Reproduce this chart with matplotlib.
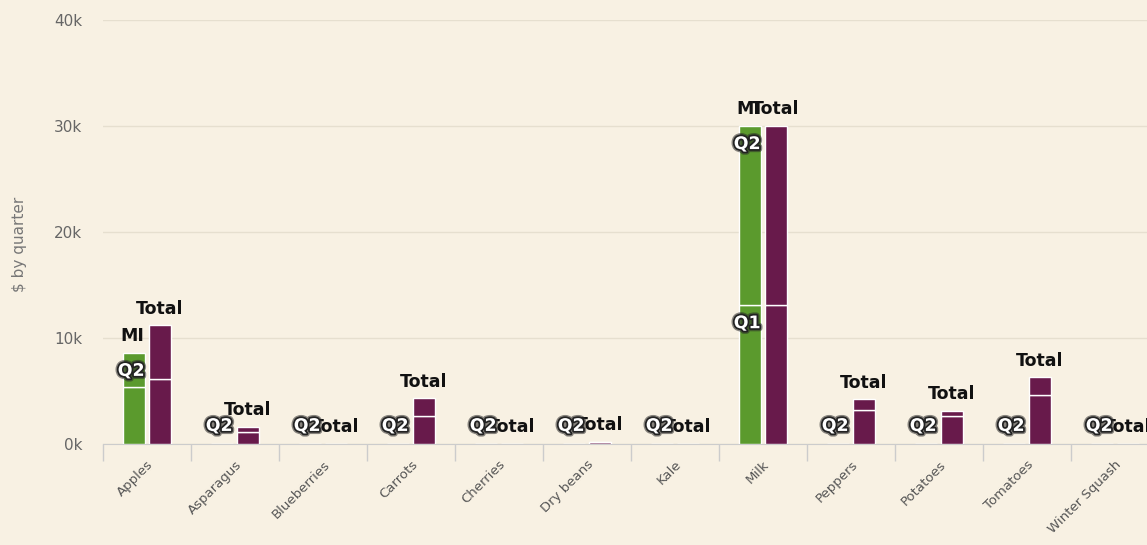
import numpy as np
import matplotlib.pyplot as plt
import matplotlib.patheffects as pe
from matplotlib.ticker import FuncFormatter, FixedLocator

categories = ['Apples', 'Asparagus', 'Blueberries', 'Carrots', 'Cherries', 'Dry beans',
              'Kale', 'Milk', 'Peppers', 'Potatoes', 'Tomatoes', 'Winter Squash']

# green stack (first stack), by quarter
green_q1 = [5400, 0, 0, 0, 0, 0, 0, 13100, 0, 0, 0, 0]
green_q2 = [3200, 0, 0, 0, 0, 0, 0, 16900, 0, 0, 0, 0]
# purple stack ("Total"), by quarter
purple_q1 = [6100, 1100, 0, 2600, 0, 200, 0, 13100, 3200, 2600, 4600, 0]
purple_q2 = [5100, 500, 0, 1700, 0, 0, 0, 16900, 1000, 500, 1700, 0]

green_stack_label = 'MI'
purple_stack_label = 'Total'
# data labels that the chart dropped (overlap removal)
hidden_labels = {('Apples', 'Q1')}

bg = '#f8f1e3'
green = '#5b9a2d'
purple = '#681a4b'

W, H = 1147, 545
fig = plt.figure(figsize=(W / 100, H / 100), dpi=100, facecolor=bg)
ax = fig.add_axes([103 / W, 101 / H, 12 * 88 / W, 424 / H])
ax.set_facecolor(bg)

x = np.arange(len(categories))
bw = 0.24
off = 0.148

g1 = np.array(green_q1)
g2 = np.array(green_q2)
p1 = np.array(purple_q1)
p2 = np.array(purple_q2)

kw = dict(width=bw, edgecolor='white', linewidth=1, zorder=3)
ax.bar(x - off, g1, color=green, **kw)
ax.bar(x - off, g2, bottom=g1, color=green, **kw)
ax.bar(x + off, p1, color=purple, **kw)
ax.bar(x + off, p2, bottom=p1, color=purple, **kw)

halo = [pe.withStroke(linewidth=4.5, foreground='#2a2a2a', alpha=0.55),
        pe.withStroke(linewidth=2.5, foreground='#222222')]

# stack labels
for i, cat in enumerate(categories):
    ax.annotate(purple_stack_label, (x[i] + off, p1[i] + p2[i]), xytext=(0, 12),
                textcoords='offset points', ha='center', va='center',
                fontsize=12.5, fontweight='bold', color='#111111', zorder=5)
    if g1[i] + g2[i] > 0:
        ax.annotate(green_stack_label, (x[i] - off, g1[i] + g2[i]), xytext=(-1, 12),
                    textcoords='offset points', ha='center', va='center',
                    fontsize=12.5, fontweight='bold', color='#111111', zorder=5)

# data labels of the green stack
for i, cat in enumerate(categories):
    if g1[i] + g2[i] == 0:
        ax.annotate('Q2', (x[i] - off, 0), xytext=(-2, 13), textcoords='offset points',
                    ha='center', va='center', fontsize=12.5, fontweight='bold',
                    color='white', path_effects=halo, zorder=6)
        continue
    for name, bottom, val in [('Q1', 0, g1[i]), ('Q2', g1[i], g2[i])]:
        if val <= 0 or (cat, name) in hidden_labels:
            continue
        ax.annotate(name, (x[i] - off, bottom + val), xytext=(-2, -13),
                    textcoords='offset points', ha='center', va='center',
                    fontsize=12.5, fontweight='bold', color='white',
                    path_effects=halo, zorder=6)

ax.set_xlim(-0.5, len(categories) - 0.5)
ax.set_ylim(0, 40000)
ax.set_yticks([0, 10000, 20000, 30000, 40000])
ax.yaxis.set_major_formatter(FuncFormatter(lambda v, p: '%dk' % (v / 1000)))
ax.grid(axis='y', color='#e6dfcf', linewidth=1, zorder=0)
ax.tick_params(axis='y', length=0, pad=15, labelsize=11, labelcolor='#666666')
ax.set_ylabel('$ by quarter', fontsize=11, color='#777777')
ax.yaxis.set_label_coords(-0.072, 0.47)

ax.set_xticks(x)
ax.set_xticklabels(categories, rotation=45, ha='right', va='top',
                   rotation_mode='anchor', fontsize=9.5, color='#555555')
ax.xaxis.set_minor_locator(FixedLocator(np.arange(len(categories) + 1) - 0.5))
ax.tick_params(axis='x', which='major', length=0, pad=10)
ax.tick_params(axis='x', which='minor', length=12, color='#cccccc', width=1)

for s in ['top', 'right', 'left']:
    ax.spines[s].set_visible(False)
ax.spines['bottom'].set_color('#cccccc')

fig.savefig('out.png', dpi=100, facecolor=bg)
